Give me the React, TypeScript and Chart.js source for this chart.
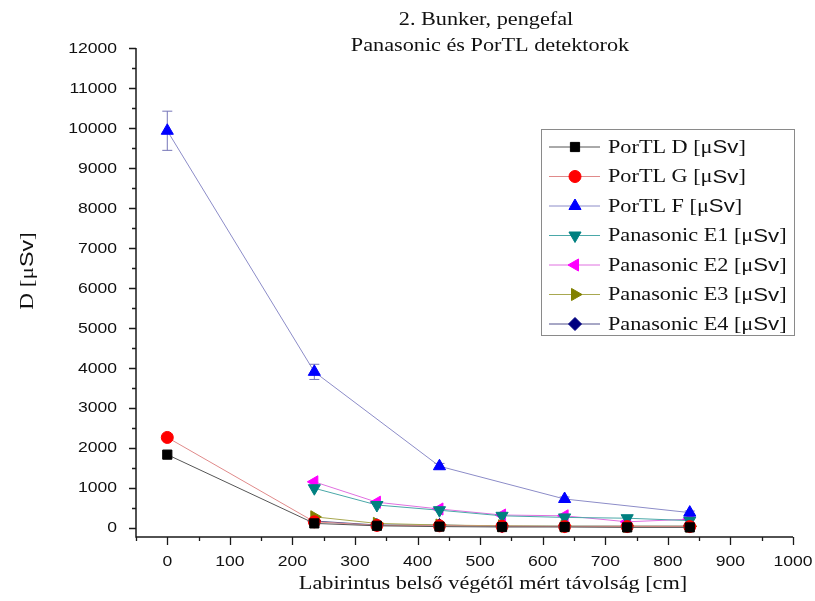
import React, { useEffect, useRef } from "react";
import { Chart, registerables } from "chart.js";
import { drawPoint } from "chart.js/helpers";

Chart.register(...registerables);

// ---- data ----
const titleLines = ["2. Bunker, pengefal", "Panasonic és PorTL detektorok"];
const xAxisTitle = "Labirintus belső végétől mért távolság [cm]";
const yAxisTitlePrefix = "D";

const xPortlDG = [0, 235, 335, 435, 535, 635, 735, 835];
const portlD = [1830, 110, 50, 30, 20, 20, 10, 10];
const portlG = [2260, 150, 60, 50, 40, 30, 30, 30];
const xPortlF = [0, 235, 435, 635, 835];
const portlF = [9930, 3900, 1540, 720, 380];
const portlFErr = [490, 190, 70, 50, 40];
const xPanasonic = [235, 335, 435, 535, 635, 735, 835];
const panE1 = [990, 570, 440, 300, 260, 240, 180];
const panE2 = [1150, 640, 470, 320, 300, 150, 215];
const panE3 = [275, 110, 70, 50, 40, 40, 40];
const panE4 = [170, 70, 70, 40, 40, 40, 40];

const seriesNames = [
  "PorTL D",
  "PorTL G",
  "PorTL F",
  "Panasonic E1",
  "Panasonic E2",
  "Panasonic E3",
  "Panasonic E4",
];
const unitLabel = "[μSv]";

const xTicks = [0, 100, 200, 300, 400, 500, 600, 700, 800, 900, 1000];
const yTicks = [0, 1000, 2000, 3000, 4000, 5000, 6000, 7000, 8000, 9000, 10000, 11000, 12000];
const xMinorTicks = [-50, 50, 150, 250, 350, 450, 550, 650, 750, 850, 950];
const yMinorTicks = [500, 1500, 2500, 3500, 4500, 5500, 6500, 7500, 8500, 9500, 10500, 11500];

const markerColors = ["#000000", "#ff0000", "#0000ff", "#008080", "#ff00ff", "#808000", "#000080"];
const lineColors = ["#555555", "#e08a8a", "#8c8cc8", "#4aa8a8", "#e070e0", "#a8a850", "#50508c"];
const pointStyles = ["rect", "circle", "triangle", "triangle", "triangle", "triangle", "rectRot"];
const pointRotations = [0, 0, 0, 180, 270, 90, 0];
const pointRadii = [6.5, 6, 7, 7, 7, 7, 6.5];

const SERIF = "'Liberation Serif', 'Times New Roman', serif";
const SANS = "'Liberation Sans', Arial, sans-serif";
const SX = 1.17; // horizontal text stretch seen in the reference

function zip(xs: number[], ys: number[]) {
  return xs.map((x, i) => ({ x, y: ys[i] }));
}

function drawMixed(
  ctx: CanvasRenderingContext2D,
  parts: [string, string][],
  x: number,
  y: number,
  align: "left" | "center" | "right",
  sx: number
) {
  let total = 0;
  const widths = parts.map(([t, f]) => {
    ctx.font = f;
    const w = ctx.measureText(t).width;
    total += w;
    return w;
  });
  ctx.save();
  ctx.translate(x, y);
  ctx.scale(sx, 1);
  let cx = align === "center" ? -total / 2 : align === "right" ? -total : 0;
  ctx.textAlign = "left";
  parts.forEach(([t, f], i) => {
    ctx.font = f;
    ctx.fillText(t, cx, 0);
    cx += widths[i];
  });
  ctx.restore();
}

function unitParts(prefix: string, size: number): [string, string][] {
  return [
    [prefix + " [μ", `${size}px ${SERIF}`],
    ["Sv", `${size}px ${SANS}`],
    ["]", `${size}px ${SERIF}`],
  ];
}

const decorPlugin = {
  id: "decor",
  beforeDatasetsDraw(chart: any) {
    const ctx = chart.ctx as CanvasRenderingContext2D;
    const xs = chart.scales.x;
    const ys = chart.scales.y;
    ctx.save();
    ctx.strokeStyle = "#7676b8";
    ctx.lineWidth = 1;
    xPortlF.forEach((xv, i) => {
      const px = xs.getPixelForValue(xv);
      const top = ys.getPixelForValue(portlF[i] + portlFErr[i]);
      const bot = ys.getPixelForValue(portlF[i] - portlFErr[i]);
      ctx.beginPath();
      ctx.moveTo(px, top);
      ctx.lineTo(px, bot);
      ctx.moveTo(px - 5, top);
      ctx.lineTo(px + 5, top);
      ctx.moveTo(px - 5, bot);
      ctx.lineTo(px + 5, bot);
      ctx.stroke();
    });
    ctx.restore();
  },
  afterDraw(chart: any) {
    const ctx = chart.ctx as CanvasRenderingContext2D;
    const xs = chart.scales.x;
    const ys = chart.scales.y;
    const area = chart.chartArea;
    ctx.save();
    // axes
    ctx.strokeStyle = "#1a1a1a";
    ctx.lineWidth = 1.5;
    ctx.beginPath();
    ctx.moveTo(area.left, area.top);
    ctx.lineTo(area.left, area.bottom);
    ctx.lineTo(area.right, area.bottom);
    ctx.stroke();
    ctx.lineWidth = 1.3;
    ctx.beginPath();
    xTicks.forEach((v) => {
      const px = Math.round(xs.getPixelForValue(v)) + 0.5;
      ctx.moveTo(px, area.bottom);
      ctx.lineTo(px, area.bottom + 8);
    });
    xMinorTicks.forEach((v) => {
      const px = Math.round(xs.getPixelForValue(v)) + 0.5;
      ctx.moveTo(px, area.bottom);
      ctx.lineTo(px, area.bottom + 4);
    });
    yTicks.forEach((v) => {
      const py = Math.round(ys.getPixelForValue(v)) + 0.5;
      ctx.moveTo(area.left, py);
      ctx.lineTo(area.left - 7, py);
    });
    yMinorTicks.forEach((v) => {
      const py = Math.round(ys.getPixelForValue(v)) + 0.5;
      ctx.moveTo(area.left, py);
      ctx.lineTo(area.left - 4, py);
    });
    ctx.stroke();

    // tick labels
    ctx.fillStyle = "#111";
    ctx.textBaseline = "middle";
    const tickFont = `15px ${SANS}`;
    xTicks.forEach((v) => {
      drawMixed(ctx, [[String(v), tickFont]], xs.getPixelForValue(v), 562, "center", SX);
    });
    yTicks.forEach((v) => {
      drawMixed(ctx, [[String(v), tickFont]], area.left - 19, ys.getPixelForValue(v) + 0.5, "right", SX);
    });

    // titles
    ctx.textBaseline = "alphabetic";
    drawMixed(ctx, [[titleLines[0], `19px ${SERIF}`]], 486, 25, "center", SX);
    drawMixed(ctx, [[titleLines[1], `19px ${SERIF}`]], 490, 51, "center", SX);
    drawMixed(ctx, [[xAxisTitle, `19px ${SERIF}`]], 493, 589, "center", SX);

    ctx.save();
    ctx.translate(33, 271);
    ctx.rotate(-Math.PI / 2);
    drawMixed(ctx, unitParts(yAxisTitlePrefix, 19), 0, 0, "center", 1.22);
    ctx.restore();

    // legend
    const lx = 541, ly = 129, lw = 253, lh = 206;
    ctx.fillStyle = "#ffffff";
    ctx.fillRect(lx, ly, lw, lh);
    ctx.strokeStyle = "#8a8a8a";
    ctx.lineWidth = 1;
    ctx.strokeRect(lx + 0.5, ly + 0.5, lw, lh);
    seriesNames.forEach((name, i) => {
      const cy = 147 + i * 29.5;
      ctx.strokeStyle = lineColors[i];
      ctx.lineWidth = 1;
      ctx.beginPath();
      ctx.moveTo(549, cy);
      ctx.lineTo(600, cy);
      ctx.stroke();
      ctx.fillStyle = markerColors[i];
      ctx.strokeStyle = markerColors[i];
      drawPoint(
        ctx,
        { pointStyle: pointStyles[i] as any, radius: pointRadii[i], rotation: pointRotations[i], borderWidth: 1 } as any,
        575,
        cy
      );
      ctx.fillStyle = "#111";
      ctx.textBaseline = "middle";
      drawMixed(ctx, unitParts(name, 19), 608, cy + 1, "left", SX);
    });
    ctx.restore();
  },
};

export default function App() {
  const ref = useRef<HTMLCanvasElement | null>(null);
  useEffect(() => {
    if (!ref.current) return;
    const mk = (i: number, xs: number[], ys: number[]) => ({
      label: seriesNames[i] + " " + unitLabel,
      data: zip(xs, ys),
      borderColor: lineColors[i],
      backgroundColor: markerColors[i],
      borderWidth: 1,
      pointBackgroundColor: markerColors[i],
      pointBorderColor: markerColors[i],
      pointBorderWidth: 1,
      pointStyle: pointStyles[i],
      pointRotation: pointRotations[i],
      pointRadius: pointRadii[i],
      showLine: true,
      tension: 0,
    });
    const datasets = [
      mk(0, xPortlDG, portlD),
      mk(1, xPortlDG, portlG),
      mk(2, xPortlF, portlF),
      mk(3, xPanasonic, panE1),
      mk(4, xPanasonic, panE2),
      mk(5, xPanasonic, panE3),
      mk(6, xPanasonic, panE4),
    ];
    const chart = new Chart(ref.current, {
      type: "line",
      data: { datasets: datasets as any },
      plugins: [decorPlugin],
      options: {
        responsive: false,
        animation: false,
        layout: { padding: { top: 48, right: 22, left: 0, bottom: 0 } },
        plugins: { legend: { display: false }, title: { display: false }, tooltip: { enabled: false } },
        scales: {
          x: {
            type: "linear",
            min: -50,
            max: 1000,
            grid: { display: false, drawTicks: false },
            border: { display: false },
            ticks: { display: false },
            afterFit: (s: any) => {
              s.height = 64;
              s.paddingLeft = 0;
              s.paddingRight = 0;
            },
          },
          y: {
            type: "linear",
            min: -230,
            max: 12000,
            grid: { display: false, drawTicks: false },
            border: { display: false },
            ticks: { display: false },
            afterFit: (s: any) => {
              s.width = 136;
              s.paddingTop = 0;
              s.paddingBottom = 0;
            },
          },
        },
      },
    });
    return () => chart.destroy();
  }, []);
  return (
    <div style={{ position: "absolute", left: 0, top: 0, width: 815, height: 601, background: "#fff" }}>
      <canvas ref={ref} width={815} height={601} style={{ width: 815, height: 601, display: "block" }} />
    </div>
  );
}
